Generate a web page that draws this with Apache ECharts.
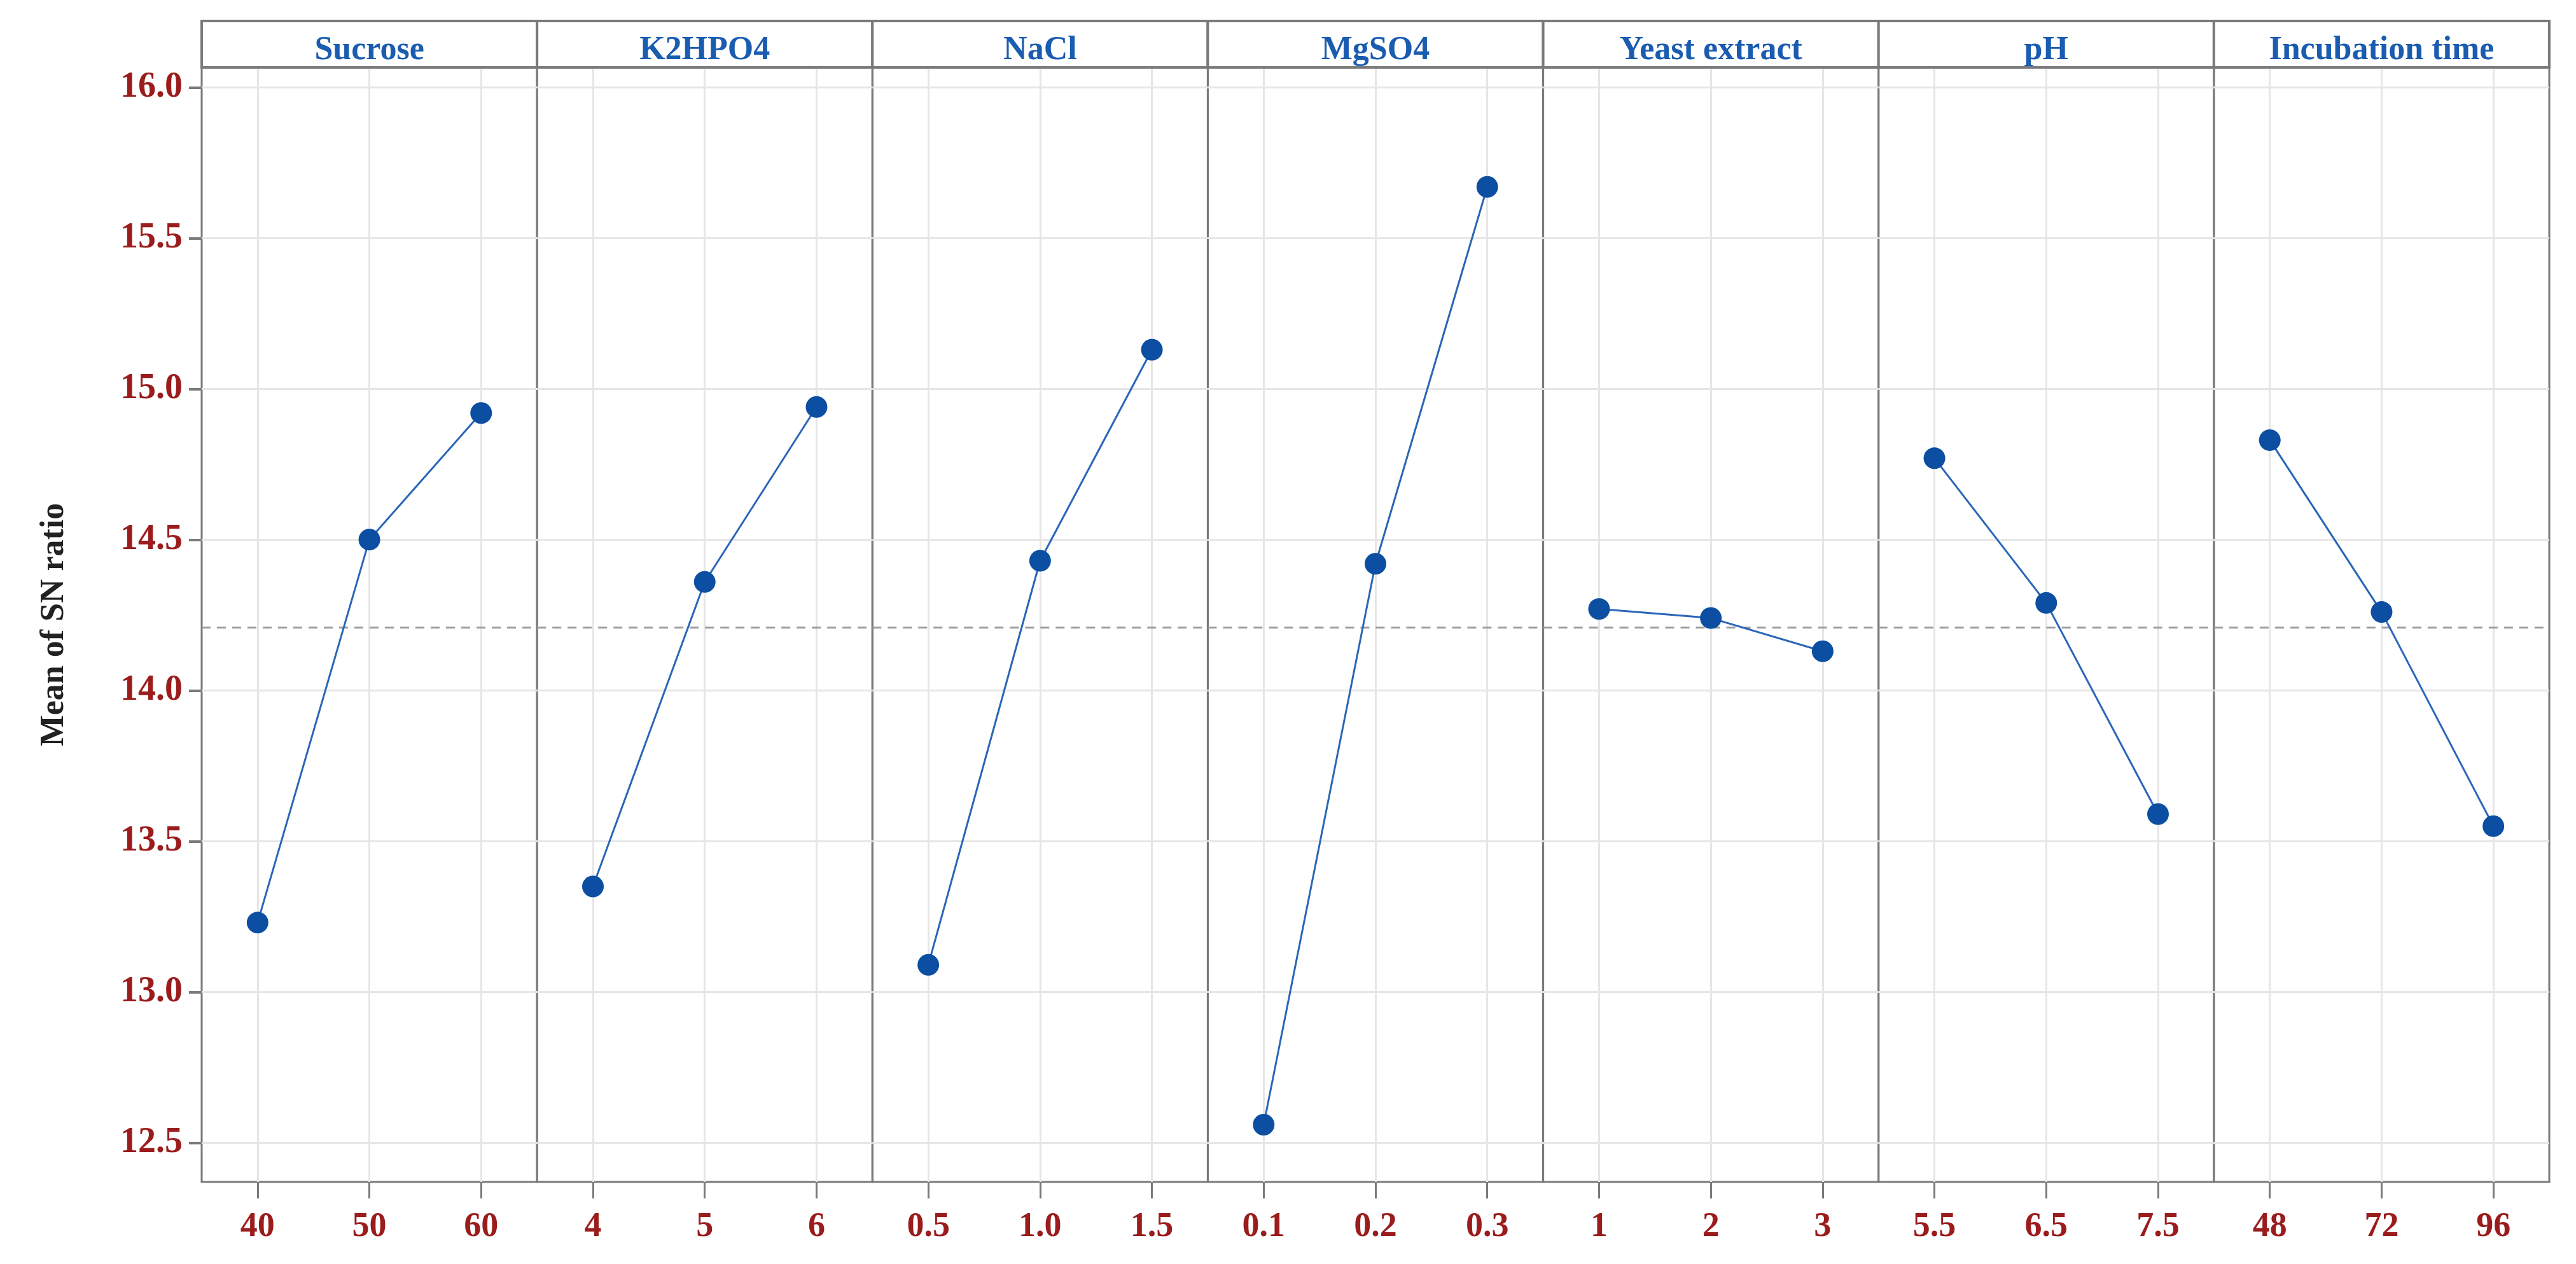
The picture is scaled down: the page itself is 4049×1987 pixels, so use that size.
<!DOCTYPE html>
<html><head><meta charset="utf-8">
<script src="https://cdn.jsdelivr.net/npm/echarts@6/dist/echarts.min.js"></script>
<style>html,body{margin:0;padding:0;background:#fff}#c{width:4049px;height:1987px}</style>
</head><body><div id="c"></div>
<script>
const factors = ["Sucrose","K2HPO4","NaCl","MgSO4","Yeast extract","pH","Incubation time"];
const levels = [["40","50","60"],["4","5","6"],["0.5","1.0","1.5"],["0.1","0.2","0.3"],["1","2","3"],["5.5","6.5","7.5"],["48","72","96"]];
const snMeans = [[13.23,14.50,14.92],[13.35,14.36,14.94],[13.09,14.43,15.13],[12.56,14.42,15.67],[14.27,14.24,14.13],[14.77,14.29,13.59],[14.83,14.26,13.55]];
const overallMean = 14.21;
const yTicks = [12.5,13.0,13.5,14.0,14.5,15.0,15.5,16.0];

const L=317, R=4007, TOP=106, BOT=1858, STRIP=33;
const W=(R-L)/7;
const YMIN=12.37, YMAX=16.066;
const font="Liberation Serif";
const grid=[],xAxis=[],yAxis=[],series=[],graphic=[];
factors.forEach((f,i)=>{
  const left=L+i*W;
  grid.push({left:left,top:TOP,width:W,height:BOT-TOP,show:true,borderColor:'#7a7a7a',borderWidth:3});
  xAxis.push({type:'category',gridIndex:i,data:levels[i],boundaryGap:true,
    axisLine:{show:false},axisTick:{show:true,alignWithLabel:true,length:26,lineStyle:{color:'#7a7a7a',width:3}},
    axisLabel:{color:'#9b1c1c',fontFamily:font,fontWeight:'bold',fontSize:54,margin:44},splitLine:{show:false}});
  yAxis.push({type:'value',gridIndex:i,min:YMIN,max:YMAX,
    axisLine:{show:false},splitLine:{show:false},
    axisTick:{show:i===0,length:20,lineStyle:{color:'#7a7a7a',width:4},customValues:yTicks},
    axisLabel:{show:i===0,color:'#9b1c1c',fontFamily:font,fontWeight:'bold',fontSize:56,margin:30,
      customValues:yTicks,formatter:v=>v.toFixed(1)},
    name:i===0?'Mean of SN ratio':'',nameLocation:'middle',nameGap:205,nameRotate:90,
    nameTextStyle:{color:'#222',fontFamily:font,fontWeight:'bold',fontSize:52}});
  const gridLines=yTicks.map(v=>({yAxis:v,lineStyle:{color:'#e6e6e6',width:3,type:'solid'}}))
    .concat(levels[i].map(c=>({xAxis:c,lineStyle:{color:'#e6e6e6',width:3,type:'solid'}})));
  series.push({type:'line',xAxisIndex:i,yAxisIndex:i,data:snMeans[i],z:1,silent:true,
    lineStyle:{opacity:0},symbol:'none',
    markLine:{silent:true,symbol:'none',label:{show:false},data:gridLines}});
  series.push({type:'line',xAxisIndex:i,yAxisIndex:i,data:snMeans[i],z:5,
    lineStyle:{color:'#2a66b8',width:3},itemStyle:{color:'#0b4ea2'},symbol:'circle',symbolSize:34,
    markLine:{silent:true,symbol:'none',label:{show:false},
      data:[{yAxis:overallMean,lineStyle:{color:'#9a9a9a',width:3,type:[14,10]}}]}});
  graphic.push({type:'rect',shape:{x:left,y:STRIP,width:W,height:TOP-STRIP},
    style:{fill:'#fff',stroke:'#7a7a7a',lineWidth:4},z:10});
  graphic.push({type:'text',x:left+W/2,y:(STRIP+TOP)/2+10,
    style:{text:f,fill:'#1a5cb0',font:'bold 52px "Liberation Serif"',align:'center',verticalAlign:'middle'},z:11});
});
const chart=echarts.init(document.getElementById('c'));
chart.setOption({animation:false,grid,xAxis,yAxis,series,graphic});
</script></body></html>
